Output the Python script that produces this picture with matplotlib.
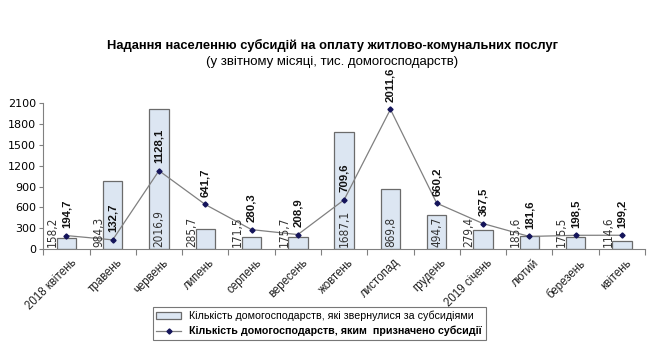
import matplotlib
matplotlib.use("Agg")
import matplotlib.pyplot as plt
import numpy as np
from matplotlib.patches import Patch
from matplotlib.lines import Line2D

# місяці
months = ["2018 квітень", "травень", "червень", "липень", "серпень", "вересень",
          "жовтень", "листопад", "грудень", "2019 січень", "лютий", "березень", "квітень"]

# кількість домогосподарств, які звернулися за субсидіями
applied = [158.2, 984.3, 2016.9, 285.7, 171.5, 175.7, 1687.1, 869.8, 494.7, 279.4, 185.6, 175.5, 114.6]

# кількість домогосподарств, яким призначено субсидії
granted = [194.7, 132.7, 1128.1, 641.7, 280.3, 208.9, 709.6, 2011.6, 660.2, 367.5, 181.6, 198.5, 199.2]

yticks = [0, 300, 600, 900, 1200, 1500, 1800, 2100]


def fmt(v):
    return f"{v:.1f}".replace(".", ",")


plt.rcParams['font.family'] = ['Liberation Sans', 'DejaVu Sans']

fig = plt.figure(figsize=(6.65, 3.45), dpi=100)
ax = fig.add_axes([0.065, 0.278, 0.905, 0.423])

x = np.arange(len(months))
ax.bar(x, applied, width=0.42, color="#dce6f2", edgecolor="#6b6b6b", linewidth=0.9, zorder=2)
ax.plot(x, granted, color="#808080", linewidth=0.9, marker="D", markersize=2.6,
        markerfacecolor="#14145a", markeredgecolor="#14145a", zorder=3)

# підписи стовпців: великі - всередині, малі - ліворуч
left_side = {0, 1, 3, 4, 5, 9, 10, 11, 12}
for i, v in enumerate(applied):
    dx = -0.3 if i in left_side else 0.0
    ax.text(x[i] + dx, 30, fmt(v), rotation=90, ha="center", va="bottom",
            fontsize=8.5, color="#333333", zorder=4,
            family=["DejaVu Sans"], fontstretch="condensed")

for i, v in enumerate(granted):
    ax.text(x[i], v + 110, fmt(v), rotation=90, ha="center", va="bottom",
            fontsize=8.2, fontweight="bold", color="#111111", zorder=4)

ax.set_xlim(-0.5, len(months) - 0.5)
ax.set_ylim(0, 2100)
ax.set_yticks(yticks)
ax.tick_params(axis="y", length=3, color="#808080", pad=2)
for lab in ax.get_yticklabels():
    lab.set_fontfamily("DejaVu Sans")
    lab.set_fontsize(8)
ax.set_xticks(np.arange(len(months) + 1) - 0.5)
ax.set_xticklabels([])
ax.tick_params(axis="x", length=4, color="#808080")
for i, m in enumerate(months):
    ax.text(x[i] + 0.08, -110, m, rotation=45, ha="right", va="top", fontsize=8.3,
            color="#222222", rotation_mode="anchor")

for s in ["top", "right"]:
    ax.spines[s].set_visible(False)
for s in ["left", "bottom"]:
    ax.spines[s].set_color("#808080")

fig.text(0.5, 0.868, "Надання населенню субсидій на оплату житлово-комунальних послуг",
         ha="center", va="center", fontsize=9.3, fontweight="bold")
fig.text(0.5, 0.82, "(у звітному місяці, тис. домогосподарств)",
         ha="center", va="center", fontsize=9.5)

handles = [Patch(facecolor="#dce6f2", edgecolor="#6b6b6b", linewidth=0.9),
           Line2D([0], [0], color="#808080", linewidth=0.9, marker="D", markersize=2.6,
                  markerfacecolor="#14145a", markeredgecolor="#14145a")]
labels = ["Кількість домогосподарств, які звернулися за субсидіями",
          "Кількість домогосподарств, яким  призначено субсидії"]
leg = fig.legend(handles, labels, loc="center", bbox_to_anchor=(0.48, 0.062),
                 frameon=True, fancybox=False, edgecolor="#555555",
                 handlelength=2.3, handleheight=0.6, borderpad=0.35, labelspacing=0.4,
                 prop={"size": 7.7})
leg.get_frame().set_linewidth(0.8)
leg.get_texts()[1].set_fontweight("bold")

fig.savefig("out.png", dpi=100)
